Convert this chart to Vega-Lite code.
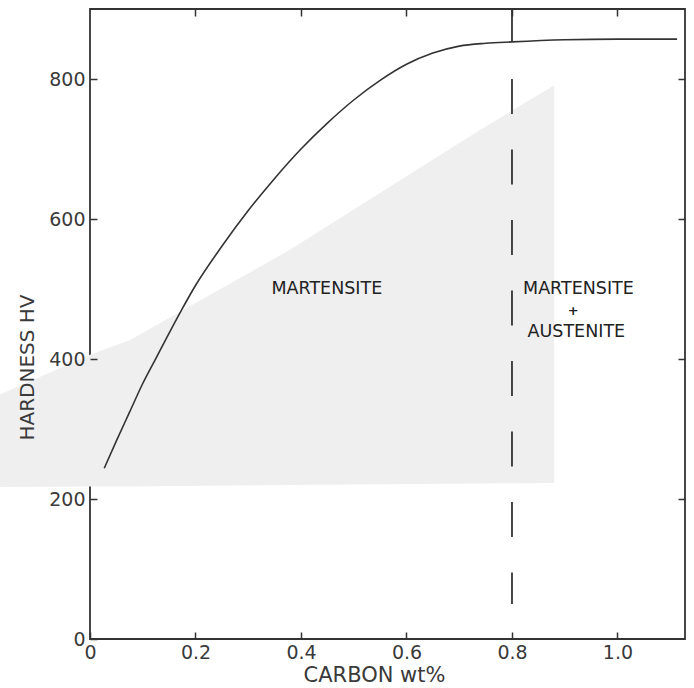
{
  "$schema": "https://vega.github.io/schema/vega-lite/v6.json",
  "width": 595,
  "height": 630,
  "autosize": {"type": "none"},
  "padding": {"left": 90, "top": 9, "right": 9, "bottom": 49},
  "background": "white",
  "datasets": {
    "curve": [
      {"x": 0.027, "y": 244}, {"x": 0.05, "y": 283}, {"x": 0.075, "y": 324},
      {"x": 0.1, "y": 365}, {"x": 0.125, "y": 401}, {"x": 0.15, "y": 437},
      {"x": 0.175, "y": 472}, {"x": 0.2, "y": 505}, {"x": 0.25, "y": 561},
      {"x": 0.3, "y": 612}, {"x": 0.35, "y": 658}, {"x": 0.4, "y": 700},
      {"x": 0.45, "y": 737}, {"x": 0.5, "y": 770}, {"x": 0.55, "y": 798},
      {"x": 0.6, "y": 821}, {"x": 0.65, "y": 837}, {"x": 0.7, "y": 847},
      {"x": 0.75, "y": 851}, {"x": 0.8, "y": 853}, {"x": 0.9, "y": 856},
      {"x": 1.0, "y": 857}, {"x": 1.113, "y": 857}
    ],
    "shade": [
      {"x": -0.171, "y": 349, "y2": 217},
      {"x": 0, "y": 406, "y2": 218},
      {"x": 0.076, "y": 427, "y2": 218},
      {"x": 0.379, "y": 556, "y2": 220},
      {"x": 0.739, "y": 727, "y2": 222},
      {"x": 0.88, "y": 791, "y2": 223}
    ],
    "rules": [
      {"x": 0.8, "y": 853, "y2": 900, "kind": "solid"},
      {"x": 0.8, "y": 800, "y2": 50, "kind": "dashed"}
    ],
    "labels": [
      {"x": 0.449, "y": 500, "text": "MARTENSITE", "kind": "word"},
      {"x": 0.926, "y": 500, "text": "MARTENSITE", "kind": "word"},
      {"x": 0.916, "y": 469, "text": "+", "kind": "plus"},
      {"x": 0.922, "y": 439, "text": "AUSTENITE", "kind": "word"}
    ]
  },
  "config": {
    "view": {"stroke": "#333333", "strokeWidth": 1.8},
    "axis": {
      "grid": false,
      "domain": false,
      "zindex": 1,
      "tickColor": "#333333",
      "tickWidth": 1.5,
      "tickSize": -7,
      "labelFlush": false,
      "labelFont": "DejaVu Sans",
      "labelFontSize": 19,
      "labelColor": "#3a3a3a",
      "titleFont": "DejaVu Sans",
      "titleFontWeight": "normal",
      "titleColor": "#3a3a3a"
    }
  },
  "resolve": {"axis": {"x": "independent", "y": "independent"}},
  "layer": [
    {
      "data": {"name": "shade"},
      "mark": {"type": "area", "color": "#efefef", "clip": false, "zindex": -1},
      "encoding": {
        "x": {"field": "x", "type": "quantitative", "scale": {"domain": [0, 1.128], "nice": false, "zero": false}, "axis": null},
        "y": {"field": "y", "type": "quantitative", "scale": {"domain": [0, 900], "nice": false}, "axis": null},
        "y2": {"field": "y2"}
      }
    },
    {
      "data": {"name": "curve"},
      "mark": {"type": "line", "interpolate": "monotone", "stroke": "#333333", "strokeWidth": 1.6},
      "encoding": {
        "x": {
          "field": "x", "type": "quantitative",
          "scale": {"domain": [0, 1.128], "nice": false, "zero": false},
          "axis": {
            "orient": "bottom",
            "zindex": 2,
            "values": [0, 0.2, 0.4, 0.6, 0.8, 1.0],
            "labelExpr": "datum.value == 0 ? '0' : format(datum.value, '.1f')",
            "labelPadding": 11,
            "labelBaseline": "top",
            "title": "CARBON wt%",
            "titleFontSize": 21,
            "titleX": 284,
            "titleY": 36,
            "titleBaseline": "middle",
            "titleAlign": "center"
          }
        },
        "y": {
          "field": "y", "type": "quantitative",
          "scale": {"domain": [0, 900], "nice": false},
          "axis": {
            "orient": "left",
            "zindex": 2,
            "values": [0, 200, 400, 600, 800],
            "labelPadding": 12,
            "title": "HARDNESS HV",
            "titleFontSize": 20,
            "titleAngle": -90,
            "titleX": -63,
            "titleY": 358,
            "titleBaseline": "middle",
            "titleAlign": "center"
          }
        }
      }
    },
    {
      "data": {"name": "rules"},
      "transform": [{"filter": "datum.kind == 'solid'"}],
      "mark": {"type": "rule", "stroke": "#333333", "strokeWidth": 1.8},
      "encoding": {
        "x": {
          "field": "x", "type": "quantitative",
          "scale": {"domain": [0, 1.128], "nice": false, "zero": false},
          "axis": {"orient": "top", "zindex": 2, "values": [0.2, 0.4, 0.6, 0.8, 1.0], "labels": false, "title": null}
        },
        "y": {
          "field": "y", "type": "quantitative",
          "scale": {"domain": [0, 900], "nice": false},
          "axis": {"orient": "right", "zindex": 2, "values": [200, 400, 600, 800], "labels": false, "title": null}
        },
        "y2": {"field": "y2"}
      }
    },
    {
      "data": {"name": "rules"},
      "transform": [{"filter": "datum.kind == 'dashed'"}],
      "mark": {"type": "rule", "stroke": "#333333", "strokeWidth": 1.8, "strokeDash": [35, 35.5]},
      "encoding": {
        "x": {"field": "x", "type": "quantitative", "scale": {"domain": [0, 1.128], "nice": false, "zero": false}, "axis": null},
        "y": {"field": "y", "type": "quantitative", "scale": {"domain": [0, 900], "nice": false}, "axis": null},
        "y2": {"field": "y2"}
      }
    },
    {
      "data": {"name": "labels"},
      "transform": [{"filter": "datum.kind == 'word'"}],
      "mark": {"type": "text", "font": "DejaVu Sans", "fontSize": 17.5, "color": "#222222", "align": "center", "baseline": "middle"},
      "encoding": {
        "x": {"field": "x", "type": "quantitative", "scale": {"domain": [0, 1.128], "nice": false, "zero": false}, "axis": null},
        "y": {"field": "y", "type": "quantitative", "scale": {"domain": [0, 900], "nice": false}, "axis": null},
        "text": {"field": "text"}
      }
    },
    {
      "data": {"name": "labels"},
      "transform": [{"filter": "datum.kind == 'plus'"}],
      "mark": {"type": "text", "font": "DejaVu Sans", "fontSize": 13, "fontWeight": "bold", "color": "#222222", "align": "center", "baseline": "middle"},
      "encoding": {
        "x": {"field": "x", "type": "quantitative", "scale": {"domain": [0, 1.128], "nice": false, "zero": false}, "axis": null},
        "y": {"field": "y", "type": "quantitative", "scale": {"domain": [0, 900], "nice": false}, "axis": null},
        "text": {"field": "text"}
      }
    }
  ]
}
